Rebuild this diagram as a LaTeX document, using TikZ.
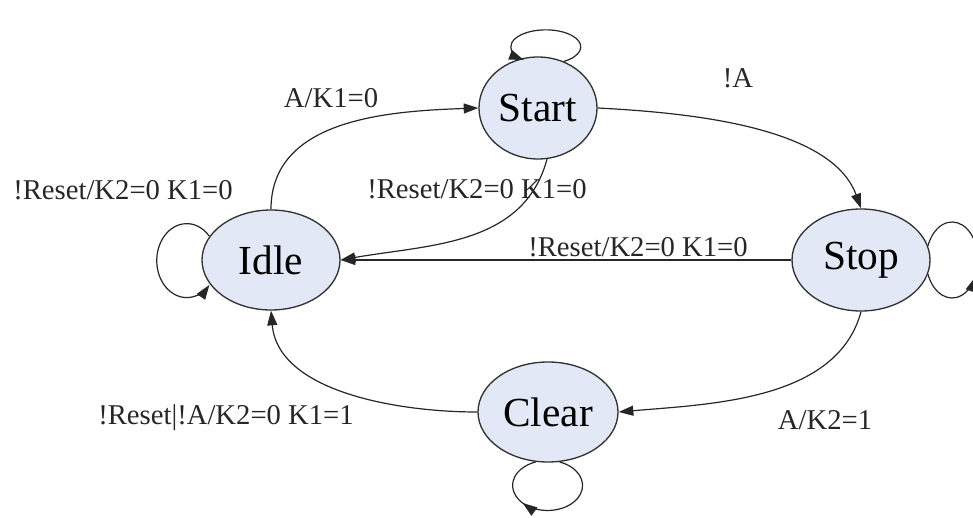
\documentclass[tikz,border=0pt]{standalone}
\usepackage{fontspec}
\setmainfont{Liberation Serif}
\usetikzlibrary{shapes.geometric,arrows.meta,decorations.markings}
\definecolor{statefill}{RGB}{226,232,245}
\definecolor{stateline}{RGB}{50,50,50}
\begin{document}
\begin{tikzpicture}[x=0.75pt, y=0.75pt,
    state/.style={ellipse, draw=stateline, line width=1pt, fill=statefill, inner sep=0pt,
      font=\fontsize{31}{36}\selectfont},
    trans/.style={line width=0.9pt, draw=black!85, -{Triangle[length=11pt,width=7.5pt]}},
    loopline/.style={line width=0.9pt, draw=black!85},
    loopmark/.style={postaction={decorate}, decoration={markings,
      mark=at position #1 with {\arrow{Triangle[length=11pt,width=7.5pt]}}}},
    lbl/.style={font=\fontsize{21.5}{25}\selectfont, text=black!85, inner sep=0pt}]
        \useasboundingbox (0,0) rectangle (973,517);
        \clip (0,0) rectangle (973,517);
        % states
        \node[state, minimum width=88.5pt, minimum height=76.5pt] (start) at (538,409) {Start};
        \node[state, minimum width=103.5pt, minimum height=75pt] (idle) at (271,257) {Idle};
        \node[state, minimum width=103.5pt, minimum height=76.5pt] (stop) at (861,257) {Stop};
        \node[state, minimum width=105pt, minimum height=75pt] (clear) at (548,105) {Clear};

        % transitions
        \draw[trans] (idle.north) to[out=90, in=182] (start.west);
        \draw[trans] (start.-80) to[out=-105, in=10] (idle.east);
        \draw[trans] (start.east) to[out=-3, in=110, looseness=0.8] (stop.north);
        \draw[trans] (stop.west) -- (idle.east);
        \draw[trans] (stop.south) to[out=-105, in=5, looseness=0.9] (clear.east);
        \draw[trans] (clear.west) to[out=180, in=-85, looseness=0.9] (idle.south);

        % self loops
        \draw[trans] (start.61) arc[start angle=-59, end angle=231, x radius=35, y radius=17];
        \draw[trans] (idle.159) arc[start angle=41, end angle=319, x radius=30, y radius=37];
        \draw[loopline, loopmark=0.4] (stop.-12) arc[start angle=202, end angle=518, x radius=26, y radius=38];
        \draw[loopline, loopmark=0.66] (clear.-77) arc[start angle=70, end angle=-250, x radius=35, y radius=25];

        % labels
        \node[lbl] (lbl idle start) at (331,419) {A/K1=0};
        \node[lbl] (lbl start idle) at (477,328) {!Reset/K2=0 K1=0};
        \node[lbl] (lbl start stop) at (738,439) {!A};
        \node[lbl] (lbl stop idle) at (638,270) {!Reset/K2=0 K1=0};
        \node[lbl] (lbl idle loop) at (123,327) {!Reset/K2=0 K1=0};
        \node[lbl] (lbl stop clear) at (825,97) {A/K2=1};
        \node[lbl] (lbl clear idle) at (226,99) {!Reset|!A/K2=0 K1=1};
\end{tikzpicture}
\end{document}
